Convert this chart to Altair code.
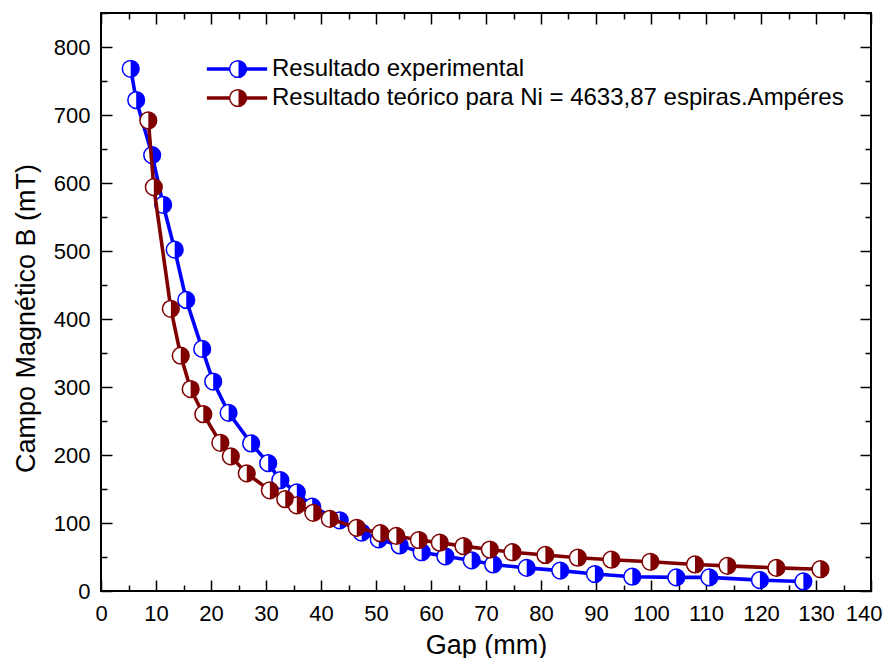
import altair as alt
import pandas as pd

# ---- data ----
exp_gap = [5.4, 6.4, 9.3, 11.3, 13.4, 15.5, 18.4, 20.4, 23.2, 27.3, 30.4, 32.6, 35.6, 38.4,
           43.4, 47.4, 50.5, 54.3, 58.3, 62.6, 67.4, 71.3, 77.4, 83.5, 89.8, 96.6, 104.6,
           110.6, 119.8, 127.7]
exp_B = [768, 722, 641, 568, 502, 428, 356, 308, 262, 217, 188, 163, 145, 124,
         104, 86, 76, 67, 57, 51, 45, 39, 34, 30, 25, 21, 20, 20, 16, 14]
teo_gap = [8.6, 9.6, 12.7, 14.5, 16.3, 18.6, 21.7, 23.6, 26.5, 30.7, 33.5, 35.6, 38.6, 41.6,
           46.5, 50.8, 53.7, 57.8, 61.6, 65.9, 70.7, 74.8, 80.8, 86.7, 92.8, 99.9, 108.0,
           113.9, 122.8, 130.8]
teo_B = [692, 594, 415, 346, 297, 260, 218, 198, 173, 148, 135, 126, 115, 106,
         93, 85, 81, 75, 71, 66, 61, 57, 53, 49, 46, 43, 39, 37, 34, 32]

series_names = ["Resultado experimental",
                "Resultado teórico para Ni = 4633,87 espiras.Ampéres"]
series_colors = ["#0000FF", "#800000"]

x_major = list(range(0, 141, 10))
x_minor = list(range(5, 140, 10))
y_major = list(range(0, 801, 100))
y_minor = list(range(50, 851, 100))

x_title = "Gap (mm)"
y_title = "Campo Magnético B (mT)"

df = pd.concat([
    pd.DataFrame({"gap": exp_gap, "B": exp_B, "serie": series_names[0]}),
    pd.DataFrame({"gap": teo_gap, "B": teo_B, "serie": series_names[1]}),
], ignore_index=True)

FONT = "Liberation Sans"
CIRCLE = "M0,-1A1,1,0,1,1,0,1A1,1,0,1,1,0,-1Z"
HALF = "M0,-1A1,1,0,0,1,0,1Z"
LINE = "M-3.6,0L3.6,0"
MSIZE = 280
LW = 3.6

color_scale = alt.Scale(domain=series_names, range=series_colors)


def xenc(axis):
    return alt.X("gap:Q", scale=alt.Scale(domain=[0, 140], nice=False, zero=False), axis=axis)


def yenc(axis):
    return alt.Y("B:Q", scale=alt.Scale(domain=[0, 850], nice=False), axis=axis)


def tick_axis(orient, values, size):
    return alt.Axis(orient=orient, values=values, labels=False, domain=False, grid=False,
                    ticks=True, tickSize=size, tickWidth=1.5, tickColor="black",
                    offset=-size, title=None)


ax_x_lab = alt.Axis(orient="bottom", values=x_major[:-1], ticks=False, tickSize=0, domain=False,
                    grid=False, labelFontSize=22, labelPadding=12, labelFlush=False,
                    labelOverlap=False, labelColor="black", title=x_title, titleFontSize=27,
                    titleFontWeight="normal", titleColor="black", titlePadding=8)
# last x label sits a little inside the right edge, as in the reference
ax_x_last = alt.Axis(orient="bottom", values=x_major[-1:], ticks=False, tickSize=0, domain=False,
                     grid=False, labelFontSize=22, labelPadding=12, labelFlush=True,
                     labelFlushOffset=11, labelOverlap=False, labelColor="black", title=None)
ax_y_lab = alt.Axis(orient="left", values=y_major, ticks=False, tickSize=0, domain=False,
                    grid=False, labelFontSize=22, labelPadding=11, labelFlush=False,
                    labelOverlap=False, labelColor="black", title=y_title, titleFontSize=27,
                    titleFontWeight="normal", titleColor="black", titlePadding=13, titleY=305)


def legend(symbol, stroke_w, fill_col, show_labels, z, dx):
    kw = dict(orient="none", legendX=124 + dx, legendY=44, title=None, symbolType=symbol,
              symbolSize=MSIZE, symbolStrokeWidth=stroke_w, labelFontSize=24,
              labelColor="black", labelOffset=23, rowPadding=5, padding=0, zindex=z,
              labelLimit=1000)
    if fill_col is not None:
        kw["symbolFillColor"] = fill_col
    if not show_labels:
        kw["labelExpr"] = "''"
    return alt.Legend(**kw)


base = alt.Chart(df)


def line_layer(name, axx, axy, leg):
    return base.transform_filter(alt.datum.serie == name).mark_line(strokeWidth=LW).encode(
        x=xenc(axx), y=yenc(axy),
        stroke=alt.Stroke("serie:N", scale=color_scale, legend=leg))


def circle_layer(name, axx, axy, leg):
    return base.transform_filter(alt.datum.serie == name).mark_point(
        shape=CIRCLE, size=MSIZE, filled=True, fill="white", strokeWidth=1.5, opacity=1
    ).encode(x=xenc(axx), y=yenc(axy),
             stroke=alt.Stroke("serie:N", scale=color_scale, legend=leg))


def half_layer(name, axx, axy, leg):
    return base.transform_filter(alt.datum.serie == name).mark_point(
        shape=HALF, size=MSIZE, filled=True, strokeWidth=0, opacity=1
    ).encode(x=xenc(axx), y=yenc(axy),
             fill=alt.Fill("serie:N", scale=color_scale, legend=leg))


l1 = line_layer(series_names[0], ax_x_lab, ax_y_lab, legend(LINE, LW, None, True, 1, 0))
l2 = circle_layer(series_names[0], tick_axis("bottom", x_major, 11), tick_axis("left", y_major, 11),
                  legend(CIRCLE, 1.5, "white", False, 2, 1))
l3 = half_layer(series_names[0], tick_axis("bottom", x_minor, 6), tick_axis("left", y_minor, 6),
                legend(HALF, 0, None, False, 3, 1.5))
l4 = line_layer(series_names[1], tick_axis("top", x_major, 11), tick_axis("right", y_major, 11), None)
l5 = circle_layer(series_names[1], tick_axis("top", x_minor, 6), tick_axis("right", y_minor, 6), None)
l6 = half_layer(series_names[1], ax_x_last, None, None)

chart = alt.layer(l1, l2, l3, l4, l5, l6).resolve_scale(
    stroke="independent", fill="independent"
).resolve_axis(x="independent", y="independent").properties(
    width=770, height=578,
    autosize=alt.AutoSizeParams(type="none"),
    padding={"left": 93, "top": 5, "right": 12, "bottom": 67},
).configure(font=FONT).configure_view(stroke="black", strokeWidth=2)

chart.save("out.html", embed_options={"renderer": "svg", "actions": False})
